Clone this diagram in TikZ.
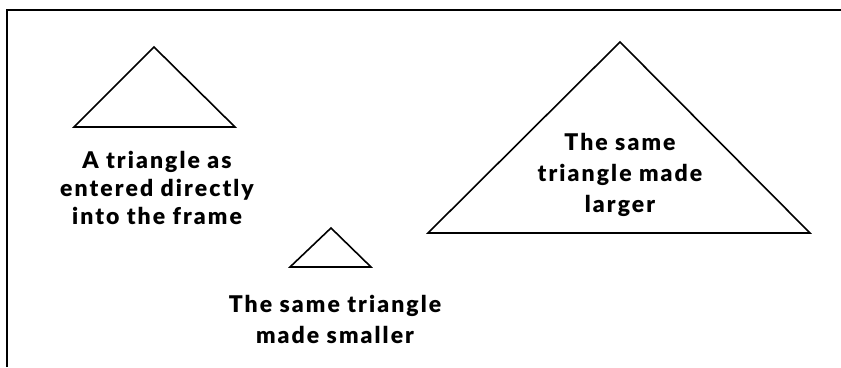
\documentclass[tikz,border=0pt]{standalone}
\usepackage{fontspec}
\setsansfont{Lato}[BoldFont={Lato Black}, LetterSpace=9]
\usepackage{tikz}
\usetikzlibrary{positioning}

\begin{document}
\begin{tikzpicture}[x=1pt, y=-1pt,
    caption/.style={font=\sffamily\bfseries\fontsize{23}{#1}\selectfont, align=center},
    caption/.default=31,
    tri/.style={draw, line width=1.6pt, line join=miter},
    frameline/.style={draw, line width=2.6pt}]
    \useasboundingbox (0,0) rectangle (841,367);
    % open frame: top and left edges only
    \draw[frameline] (7,367) -- (7,10) -- (841,10);
    % the three triangles
    \draw[tri] (74,127)  -- (154,47)  -- (235,127) -- cycle;
    \draw[tri] (290,267) -- (331,228) -- (371,267) -- cycle;
    \draw[tri] (428,233) -- (620,42)  -- (810,233) -- cycle;
    \node[caption=28] (entered) at (157,188) {A triangle as\\entered directly\\into the frame};
    \node[caption]    (smaller) at (335,319) {The same triangle\\made smaller};
    \node[caption]    (larger)  at (620,175) {The same\\triangle made\\larger};
  \end{tikzpicture}
\end{document}
